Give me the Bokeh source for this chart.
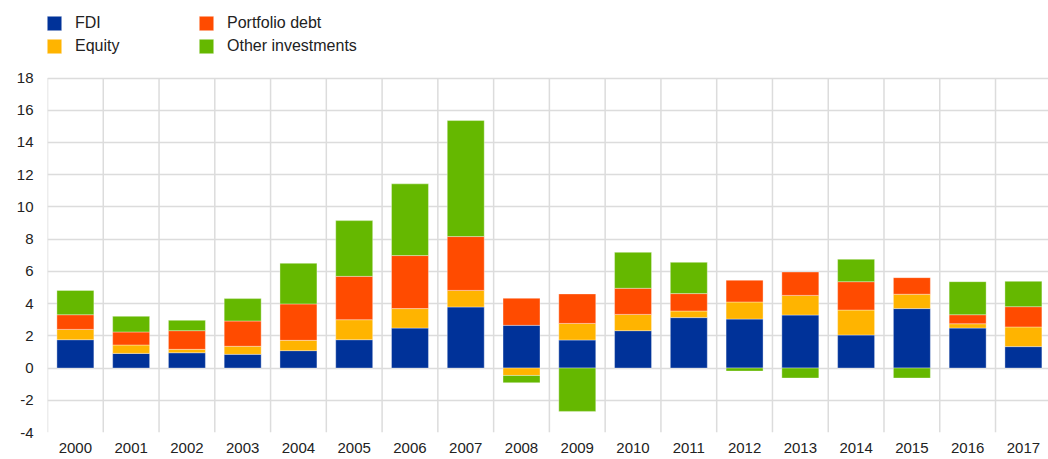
from bokeh.plotting import figure
from bokeh.models import Range1d, FixedTicker, Legend, LegendItem, ColumnDataSource
from bokeh.embed import file_html
from bokeh.resources import INLINE

years = [str(y) for y in range(2000, 2018)]
fdi = [1.76, 0.91, 0.95, 0.85, 1.08, 1.76, 2.48, 3.79, 2.65, 1.74, 2.32, 3.13, 3.04, 3.29, 2.05, 3.69, 2.48, 1.33]
equity = [0.64, 0.52, 0.21, 0.50, 0.64, 1.24, 1.21, 1.03, -0.46, 1.03, 1.01, 0.41, 1.06, 1.22, 1.55, 0.89, 0.27, 1.22]
portfolio_debt = [0.91, 0.81, 1.16, 1.57, 2.26, 2.69, 3.29, 3.34, 1.68, 1.83, 1.62, 1.08, 1.35, 1.45, 1.76, 1.03, 0.56, 1.26]
other_investments = [1.51, 0.97, 0.64, 1.39, 2.52, 3.46, 4.45, 7.20, -0.45, -2.69, 2.23, 1.94, -0.19, -0.62, 1.39, -0.62, 2.05, 1.57]

series_names = ["FDI", "Equity", "Portfolio debt", "Other investments"]
series_values = [fdi, equity, portfolio_debt, other_investments]
series_colors = ["#003299", "#FFB400", "#FF4B00", "#65B800"]
y_ticks = list(range(-4, 19, 2))

FONT = "Liberation Sans"
TXT = "#222222"
GRID = "#dcdcdc"

n = len(years)
xs = list(range(n))

# the frame extends above the top tick so that the legend sits inside it
p = figure(width=1048, height=459, output_backend="svg", toolbar_location=None,
           x_range=Range1d(-0.5, 17.45), y_range=Range1d(-4, 22.5),
           min_border_left=47, min_border_right=0, min_border_top=5, min_border_bottom=27)
p.outline_line_color = None
p.background_fill_color = "white"
p.border_fill_color = "white"

# vertical grid lines at category boundaries, limited to the tick span
bounds = [i - 0.5 for i in range(n + 1)]
p.segment(x0=bounds, x1=bounds, y0=[y_ticks[0]] * len(bounds), y1=[y_ticks[-1]] * len(bounds),
          line_color=GRID, line_width=1.5)

pos = [0.0] * n
neg = [0.0] * n
items = []
for name, vals, color in zip(series_names, series_values, series_colors):
    bottom, top = [], []
    for i, v in enumerate(vals):
        if v >= 0:
            bottom.append(pos[i]); top.append(pos[i] + v); pos[i] += v
        else:
            top.append(neg[i]); bottom.append(neg[i] + v); neg[i] += v
    src = ColumnDataSource(dict(x=xs, bottom=bottom, top=top))
    r = p.vbar(x="x", bottom="bottom", top="top", width=0.663, source=src,
               fill_color=color, line_color="white", line_alpha=0.35, line_width=1)
    items.append(LegendItem(label=name, renderers=[r]))

# axes
p.xaxis.ticker = FixedTicker(ticks=xs)
p.xaxis.major_label_overrides = {i: years[i] for i in xs}
p.yaxis.ticker = FixedTicker(ticks=y_ticks)
p.yaxis.major_label_overrides = {t: str(t) for t in y_ticks}
for ax in (p.xaxis[0], p.yaxis[0]):
    ax.axis_line_color = None
    ax.major_tick_line_color = None
    ax.minor_tick_line_color = None
    ax.major_tick_out = 0
    ax.major_tick_in = 0
    ax.major_label_text_font = FONT
    ax.major_label_text_font_size = "15px"
    ax.major_label_text_color = TXT
p.yaxis.major_label_standoff = 14
p.xaxis.major_label_standoff = 10

# horizontal grid
p.xgrid.grid_line_color = None
p.ygrid.ticker = FixedTicker(ticks=y_ticks)
p.ygrid.grid_line_color = GRID
p.ygrid.grid_line_width = 1.5

legend = Legend(items=items, location=(-2, 377), orientation="vertical", nrows=2,
                glyph_width=18, glyph_height=18, label_standoff=12,
                label_text_font=FONT, label_text_font_size="16px", label_text_color=TXT,
                label_height=18, label_width=117, spacing=5,
                padding=0, margin=0, border_line_color=None, background_fill_alpha=0)
p.add_layout(legend, "center")

open("out.html", "w").write(file_html(p, INLINE))
